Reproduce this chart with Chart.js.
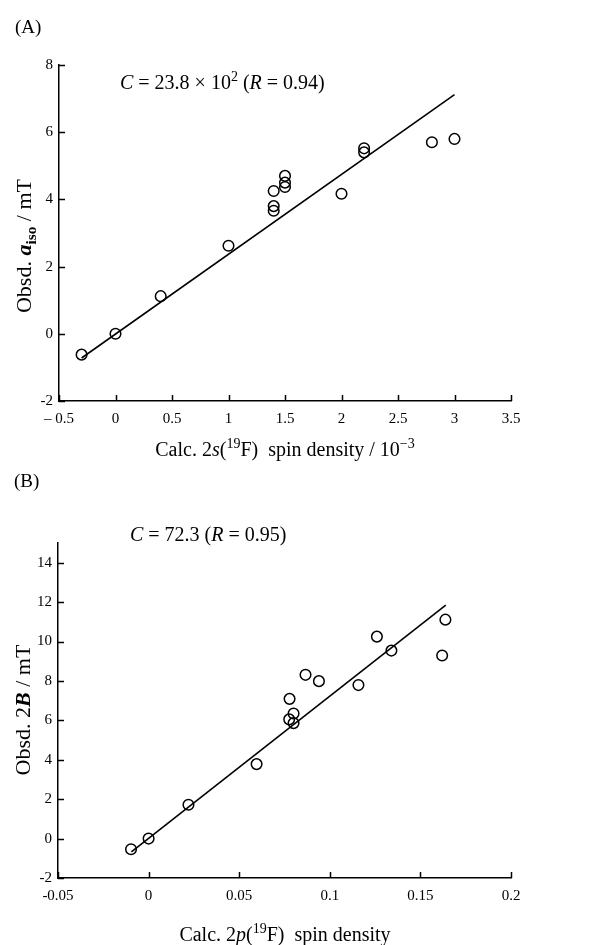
<!DOCTYPE html>
<html>
<head>
<meta charset="utf-8">
<script src="https://cdn.jsdelivr.net/npm/chart.js@4.4.1/dist/chart.umd.min.js"></script>
<style>
  html, body { margin: 0; padding: 0; background: #fff; }
  body { width: 605px; height: 945px; position: relative; overflow: hidden; font-family: 'Liberation Serif', 'DejaVu Serif', serif; color: #000; }
  .box { position: absolute; left: 0; width: 605px; }
  .lbl { position: absolute; white-space: nowrap; font-size: 20px; line-height: 1; }
  .rot { transform: translate(-50%, -50%) rotate(-90deg); }
  .hc { transform: translate(-50%, -50%); }
  sup, sub { font-size: 70%; line-height: 0; }
</style>
</head>
<body>
<div class="box" style="top:0;height:470px"><canvas id="chartA"></canvas></div>
<div class="box" style="top:470px;height:475px"><canvas id="chartB"></canvas></div>

<div class="lbl" style="left:15px;top:17px;font-size:19px">(A)</div>
<div class="lbl" style="left:120px;top:72px;font-size:20px"><i>C</i> = 23.8 × 10<sup>2</sup> (<i>R</i> = 0.94)</div>
<div class="lbl rot" style="left:24px;top:246px;font-size:22px">Obsd. <b><i>a</i><sub>iso</sub></b> / mT</div>
<div class="lbl hc" style="left:285px;top:449px">Calc. 2<i>s</i>(<sup>19</sup>F)&nbsp; spin density / 10<sup>−3</sup></div>

<div class="lbl" style="left:14px;top:471px;font-size:19px">(B)</div>
<div class="lbl" style="left:130px;top:524px;font-size:20px"><i>C</i> = 72.3 (<i>R</i> = 0.95)</div>
<div class="lbl rot" style="left:23px;top:710px;font-size:22px">Obsd. 2<b><i>B</i></b> / mT</div>
<div class="lbl hc" style="left:285px;top:934px">Calc. 2<i>p</i>(<sup>19</sup>F)&nbsp; spin density</div>

<script>
// panel A: 2s spin density (10^-3) vs a_iso (mT)
const xA = [-0.3, 0, 0.4, 1.0, 1.4, 1.4, 1.4, 1.5, 1.5, 1.5, 2.0, 2.2, 2.2, 2.8, 3.0];
const yA = [-0.62, 0, 1.12, 2.62, 4.25, 3.8, 3.66, 4.7, 4.5, 4.37, 4.17, 5.52, 5.4, 5.7, 5.8];
const fitXA = [-0.3, 3.0];
const fitYA = [-0.72, 7.12];
const xTicksA = ['\u2013 0.5', '0', '0.5', '1', '1.5', '2', '2.5', '3', '3.5'];
const yTicksA = ['-2', '0', '2', '4', '6', '8'];

// panel B: 2p spin density vs 2B (mT)
const xB = [-0.0097, 0, 0.022, 0.0596, 0.0778, 0.0776, 0.080, 0.080, 0.0866, 0.094, 0.1158, 0.126, 0.134, 0.162, 0.1638];
const yB = [-0.54, 0, 1.72, 3.78, 7.09, 6.05, 6.35, 5.86, 8.31, 7.99, 7.79, 10.25, 9.54, 9.29, 11.11];
const fitXB = [-0.0095, 0.164];
const fitYB = [-0.68, 11.85];
const xTicksB = ['-0.05', '0', '0.05', '0.1', '0.15', '0.2'];
const yTicksB = ['-2', '0', '2', '4', '6', '8', '10', '12', '14'];

const toPts = (xs, ys) => xs.map((x, i) => ({x: x, y: ys[i]}));

// ticks in this figure point into the plot
const inwardTicks = {
    id: 'inwardTicks',
    afterDraw(chart) {
        const {ctx, chartArea, scales} = chart;
        ctx.save();
        ctx.strokeStyle = '#000';
        ctx.lineWidth = 1.5;
        ctx.beginPath();
        scales.x.ticks.forEach(t => {
            const px = Math.round(scales.x.getPixelForValue(t.value)) + 0.5;
            ctx.moveTo(px, chartArea.bottom);
            ctx.lineTo(px, chartArea.bottom - 6);
        });
        scales.y.ticks.forEach(t => {
            const py = Math.round(scales.y.getPixelForValue(t.value)) + 0.5;
            ctx.moveTo(chartArea.left, py);
            ctx.lineTo(chartArea.left + 6, py);
        });
        ctx.stroke();
        ctx.restore();
    }
};

const tickFont = {family: 'Liberation Serif', size: 15};

const buildChart = (ctx, cfg) => {
    return new Chart(ctx, {
        type: 'scatter',
        data: {
            datasets: [{
                data: toPts(cfg.xs, cfg.ys),
                pointStyle: 'circle',
                pointRadius: 5.3,
                pointBorderWidth: 1.5,
                borderColor: '#000',
                backgroundColor: 'rgba(0,0,0,0)'
            }, {
                type: 'line',
                data: toPts(cfg.fitX, cfg.fitY),
                borderColor: '#000',
                borderWidth: 1.6,
                pointRadius: 0,
                fill: false,
                tension: 0
            }]
        },
        options: {
            responsive: true,
            maintainAspectRatio: false,
            animation: false,
            layout: {
                padding: {left: 0, right: 94, top: cfg.top, bottom: 0}
            },
            scales: {
                x: {
                    type: 'linear',
                    min: cfg.xMin,
                    max: cfg.xMax,
                    afterFit: s => { s.height = cfg.xH; },
                    border: {display: true, color: '#000', width: 1.5},
                    grid: {display: true, drawOnChartArea: false, drawTicks: false},
                    ticks: {
                        stepSize: cfg.xStep,
                        padding: 9,
                        color: '#000',
                        font: tickFont,
                        maxRotation: 0,
                        autoSkip: false,
                        callback: (v, i) => cfg.xLabels[i]
                    }
                },
                y: {
                    type: 'linear',
                    min: cfg.yMin,
                    max: cfg.yMax,
                    afterFit: s => { s.width = cfg.yW; },
                    afterBuildTicks: s => { s.ticks = s.ticks.filter(t => t.value <= cfg.yTop); },
                    border: {display: true, color: '#000', width: 1.5},
                    grid: {display: true, drawOnChartArea: false, drawTicks: false},
                    ticks: {
                        stepSize: 2,
                        padding: 6,
                        color: '#000',
                        font: tickFont,
                        autoSkip: false,
                        callback: (v, i) => cfg.yLabels[i]
                    }
                }
            },
            plugins: {
                legend: {display: false},
                tooltip: {enabled: false}
            }
        },
        plugins: [inwardTicks]
    });
};

let chartA = buildChart(document.getElementById('chartA').getContext('2d'), {
    xs: xA, ys: yA, fitX: fitXA, fitY: fitYA,
    xMin: -0.5, xMax: 3.5, xStep: 0.5, xLabels: xTicksA,
    yMin: -2, yMax: 8, yTop: 8, yLabels: yTicksA,
    top: 65, xH: 69, yW: 59
});

let chartB = buildChart(document.getElementById('chartB').getContext('2d'), {
    xs: xB, ys: yB, fitX: fitXB, fitY: fitYB,
    xMin: -0.05, xMax: 0.2, xStep: 0.05, xLabels: xTicksB,
    yMin: -2, yMax: 15, yTop: 14, yLabels: yTicksB,
    top: 73, xH: 67, yW: 58
});
</script>
</body>
</html>
